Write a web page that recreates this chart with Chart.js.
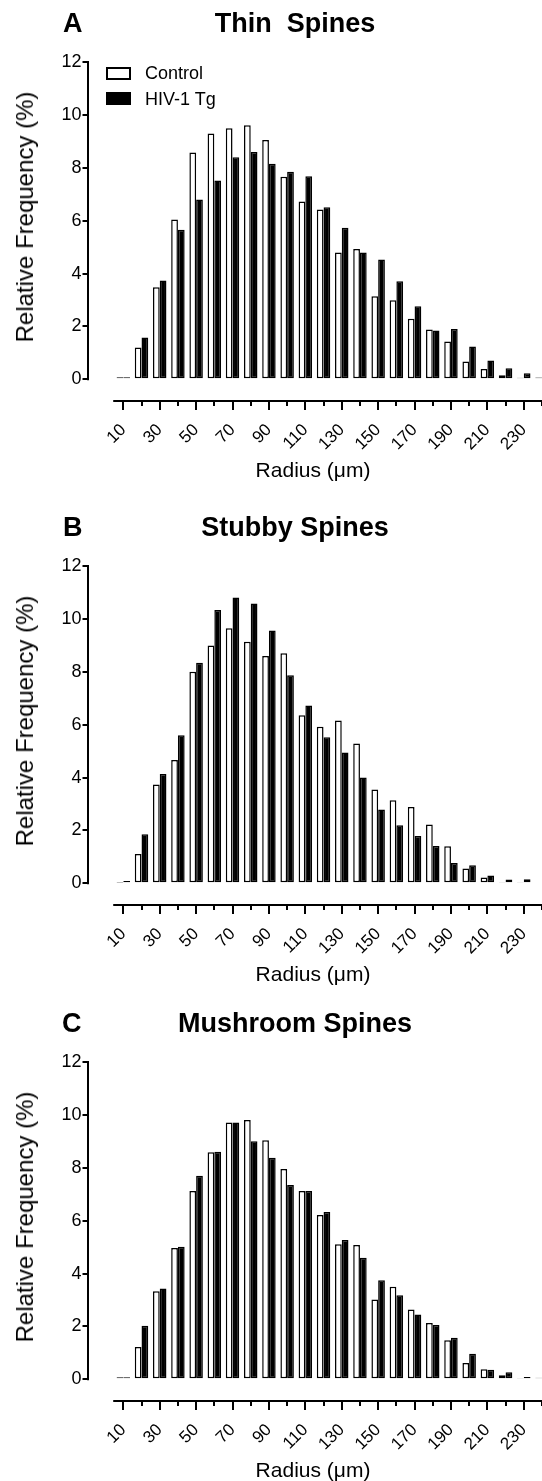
<!DOCTYPE html>
<html>
<head>
<meta charset="utf-8">
<script src="https://cdn.jsdelivr.net/npm/chart.js@4.4.0/dist/chart.umd.min.js"></script>
<style>
html, body { margin: 0; padding: 0; background: #fff; overflow: hidden; width: 542px; height: 1481px; }
body { position: relative; font-family: "Liberation Sans", Arial, sans-serif; color: #000; }
.panel { position: absolute; left: 0; width: 560px; height: 495px; }
.panel canvas { position: absolute; left: 0; top: 0; }
.letter, .title { position: absolute; top: 10px; font-weight: bold; font-size: 27px; line-height: 27px; white-space: pre; }
.title { transform: translateX(-50%); }
.ytitle { position: absolute; left: 25px; top: 217px; font-size: 24px; line-height: 24px; white-space: nowrap; transform: translate(-50%, -50%) rotate(-90deg); }
.xtitle { position: absolute; left: 313px; top: 459px; font-size: 21px; line-height: 21px; white-space: nowrap; transform: translateX(-50%); }
.key { position: absolute; left: 106px; width: 25px; height: 13px; border: 2px solid #000; box-sizing: border-box; }
.keytext { position: absolute; left: 145px; font-size: 18px; line-height: 18px; white-space: nowrap; }
</style>
</head>
<body>

<div class="panel" style="top:0px">
  <canvas id="thin" width="560" height="495"></canvas>
  <div class="letter" style="left:63px">A</div>
  <div class="title" style="left:295px">Thin  Spines</div>
  <div class="ytitle">Relative Frequency (%)</div>
  <div class="xtitle">Radius (μm)</div>
  <div class="key" style="top:67px;background:#fff"></div>
  <div class="keytext" style="top:64px">Control</div>
  <div class="key" style="top:92px;background:#000"></div>
  <div class="keytext" style="top:90px">HIV-1 Tg</div>
</div>

<div class="panel" style="top:504px">
  <canvas id="stubby" width="560" height="495"></canvas>
  <div class="letter" style="left:63px">B</div>
  <div class="title" style="left:295px">Stubby Spines</div>
  <div class="ytitle">Relative Frequency (%)</div>
  <div class="xtitle">Radius (μm)</div>
</div>

<div class="panel" style="top:1000px">
  <canvas id="mushroom" width="560" height="495"></canvas>
  <div class="letter" style="left:62px">C</div>
  <div class="title" style="left:295px">Mushroom Spines</div>
  <div class="ytitle">Relative Frequency (%)</div>
  <div class="xtitle">Radius (μm)</div>
</div>

<script>
const radii = [10, 20, 30, 40, 50, 60, 70, 80, 90, 100, 110, 120,
               130, 140, 150, 160, 170, 180, 190, 200, 210, 220, 230, 240];
const xTickLabels = ["10", "30", "50", "70", "90", "110", "130", "150", "170", "190", "210", "230"];
const yTicks = [0, 2, 4, 6, 8, 10, 12];
const seriesNames = ["Control", "HIV-1 Tg"];

// Thin spines
const thinControl = [0.08, 1.2, 3.48, 6.04, 8.58, 9.3, 9.49, 9.61, 9.05, 7.66, 6.72, 6.42,
                     4.8, 4.93, 3.14, 2.99, 2.29, 1.88, 1.43, 0.67, 0.39, 0.15, 0.06, 0.07];
const thinHiv = [0.08, 1.58, 3.74, 5.66, 6.8, 7.52, 8.4, 8.6, 8.15, 7.85, 7.68, 6.51,
                 5.73, 4.8, 4.53, 3.71, 2.76, 1.85, 1.9, 1.24, 0.71, 0.42, 0.23, 0.06];

// Stubby spines
const stubbyControl = [0.02, 1.11, 3.74, 4.66, 8.0, 8.99, 9.65, 9.14, 8.6, 8.7, 6.36, 5.92,
                       6.16, 5.29, 3.55, 3.14, 2.89, 2.22, 1.4, 0.56, 0.22, 0.05, 0.03, 0];
const stubbyHiv = [0.09, 1.86, 4.13, 5.6, 8.34, 10.34, 10.81, 10.58, 9.56, 7.87, 6.72, 5.52,
                   4.95, 4.0, 2.79, 2.2, 1.79, 1.41, 0.77, 0.68, 0.3, 0.14, 0.15, 0];

// Mushroom spines
const mushroomControl = [0.08, 1.22, 3.33, 4.97, 7.12, 8.59, 9.71, 9.81, 9.04, 7.95, 7.12, 6.21,
                         5.11, 5.08, 3.02, 3.5, 2.64, 2.13, 1.48, 0.62, 0.38, 0.15, 0.05, 0.06];
const mushroomHiv = [0.08, 2.03, 3.43, 5.01, 7.7, 8.61, 9.71, 9.0, 8.38, 7.35, 7.12, 6.33,
                     5.27, 4.6, 3.75, 3.18, 2.45, 2.05, 1.57, 0.97, 0.36, 0.27, 0.09, 0.03];

const fontFamily = '"Liberation Sans", Arial, sans-serif';
const xAxisStart = 5;
const minorTick = 5;

function isLabelled(value) {
    return xTickLabels.includes(String(value));
}

// axis lines drawn by hand: y axis only spans 0-12, x axis sits below the bars
const axisLines = {
    id: "axisLines",
    afterDraw(chart) {
        const ctx = chart.ctx;
        const area = chart.chartArea;
        const x = chart.scales.x;
        const y = chart.scales.y;
        ctx.save();
        ctx.strokeStyle = "#000";
        ctx.lineWidth = 2;
        ctx.lineCap = "square";
        ctx.beginPath();
        ctx.moveTo(area.left - 1, y.getPixelForValue(yTicks[yTicks.length - 1]));
        ctx.lineTo(area.left - 1, y.getPixelForValue(0));
        ctx.moveTo(x.getPixelForValue(xAxisStart), area.bottom);
        ctx.lineTo(area.right, area.bottom);
        ctx.stroke();
        // shorter ticks for the unlabelled radii
        ctx.lineCap = "butt";
        ctx.beginPath();
        radii.forEach(function (v) {
            if (!isLabelled(v)) {
                const px = Math.round(x.getPixelForValue(v));
                ctx.moveTo(px, area.bottom);
                ctx.lineTo(px, area.bottom + minorTick);
            }
        });
        ctx.stroke();
        ctx.restore();
    }
};

function drawPanel(id, controlData, hivData) {
    const ctx = document.getElementById(id);
    return new Chart(ctx, {
        type: "bar",
        data: {
            labels: radii,
            datasets: [
                {
                    label: seriesNames[0],
                    data: controlData,
                    backgroundColor: "#fff",
                    borderColor: "#000",
                    borderWidth: 1.5,
                    borderSkipped: false,
                    categoryPercentage: 0.74,
                    barPercentage: 1,
                },
                {
                    label: seriesNames[1],
                    data: hivData,
                    backgroundColor: "#000",
                    borderColor: "#000",
                    borderWidth: 1.5,
                    borderSkipped: false,
                    categoryPercentage: 0.74,
                    barPercentage: 1,
                },
            ],
        },
        options: {
            responsive: false,
            animation: false,
            events: [],
            layout: { padding: { top: 62, left: 0, right: 0, bottom: 0 } },
            plugins: {
                legend: { display: false },
                tooltip: { enabled: false },
            },
            scales: {
                x: {
                    type: "linear",
                    min: -8.85,
                    max: 249.9,
                    offset: false,
                    border: { display: false },
                    grid: {
                        offset: false,
                        drawOnChartArea: false,
                        drawTicks: true,
                        tickLength: 9,
                        lineWidth: 2,
                        color: "#000",
                        tickColor: function (c) {
                            return c.tick && isLabelled(c.tick.value) ? "#000" : "rgba(0,0,0,0)";
                        },
                    },
                    afterBuildTicks: function (scale) {
                        scale.ticks = radii.map(function (v) { return { value: v }; });
                    },
                    afterFit: function (scale) {
                        scale.height = 94;
                        scale.paddingLeft = 0;
                        scale.paddingRight = 0;
                    },
                    ticks: {
                        autoSkip: false,
                        maxRotation: 45,
                        minRotation: 45,
                        padding: 10,
                        color: "#000",
                        font: { family: fontFamily, size: 17 },
                        callback: function (value) {
                            return isLabelled(value) ? String(value) : "";
                        },
                    },
                },
                y: {
                    min: -0.82,
                    max: 12,
                    border: { display: false },
                    grid: { drawOnChartArea: false, drawTicks: true, tickLength: 6.5, color: "#000", lineWidth: 2 },
                    afterBuildTicks: function (scale) {
                        scale.ticks = yTicks.map(function (v) { return { value: v }; });
                    },
                    afterFit: function (scale) {
                        scale.width = 89;
                        scale.paddingTop = 0;
                        scale.paddingBottom = 0;
                    },
                    ticks: {
                        padding: 1,
                        color: "#000",
                        font: { family: fontFamily, size: 18 },
                    },
                },
            },
        },
        plugins: [axisLines],
    });
}

drawPanel("thin", thinControl, thinHiv);
drawPanel("stubby", stubbyControl, stubbyHiv);
drawPanel("mushroom", mushroomControl, mushroomHiv);
</script>
</body>
</html>
